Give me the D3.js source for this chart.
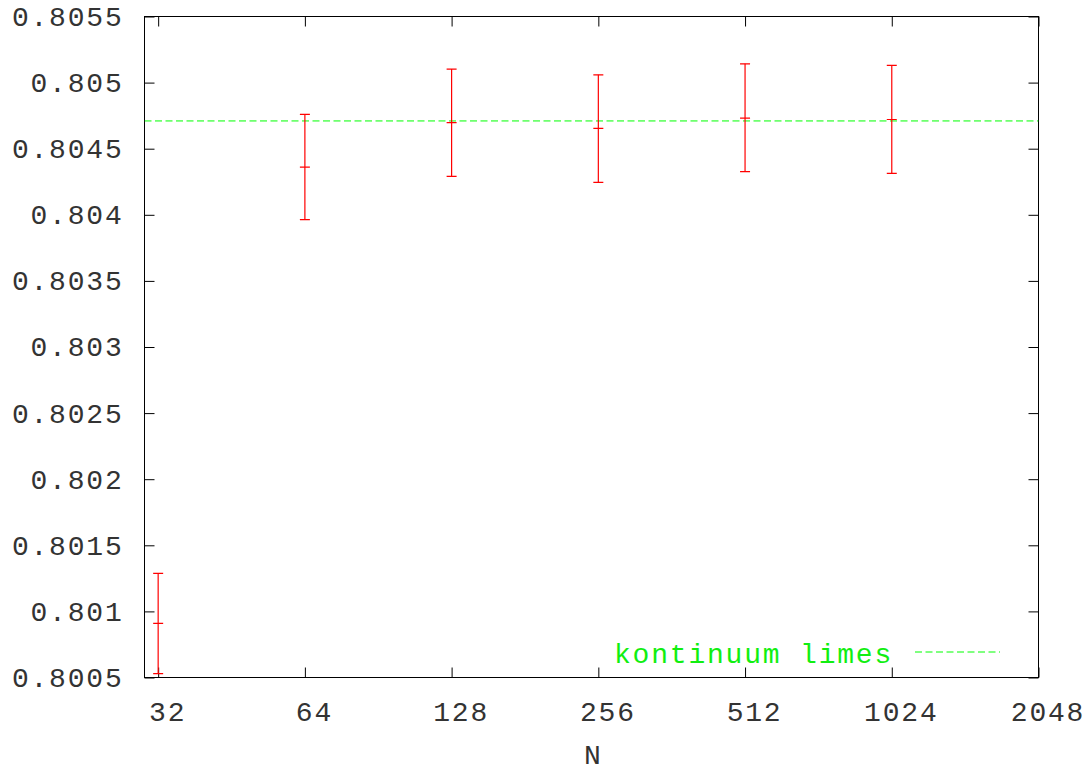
<!DOCTYPE html>
<html><head><meta charset="utf-8">
<script src="https://cdn.jsdelivr.net/npm/d3@7"></script>
<style>
body{margin:0;background:#fff;}
svg{display:block;}
text{font-family:"Liberation Mono",monospace;}
</style></head>
<body>
<svg id="chart" width="1092" height="769"></svg>
<script>
// Data
const N = [32, 64, 128, 256, 512, 1024];
const values = [0.80091, 0.804361, 0.804697, 0.804653, 0.804731, 0.804721];
const errLow = [0.80053, 0.803963, 0.804291, 0.804245, 0.804326, 0.804313];
const errHigh = [0.801288, 0.804759, 0.805102, 0.805059, 0.805142, 0.80513];
const limit = 0.80471;
const xTicks = [32, 64, 128, 256, 512, 1024, 2048];
const yTicks = [0.8005, 0.801, 0.8015, 0.802, 0.8025, 0.803, 0.8035, 0.804, 0.8045, 0.805, 0.8055];
const yTickLabels = ["0.8005","0.801","0.8015","0.802","0.8025","0.803","0.8035","0.804","0.8045","0.805","0.8055"];
const legendLabel = "kontinuum limes";
const xLabel = "N";

const L = 144.5, R = 1038.5, T = 16.5, B = 677.5;
const svg = d3.select("#chart");
const x = d3.scaleLog().base(2).domain([30, 2048]).range([L, R]);
const y = d3.scaleLinear().domain([0.8005, 0.8055]).range([B, T]);
const FS = 28;
const LS = 1.8;
const txtCol = "#333";

// axes
const gL = svg.append("g").attr("transform", `translate(${L},0)`)
  .call(d3.axisLeft(y).tickValues(yTicks).tickSizeInner(-10).tickSizeOuter(0).tickPadding(21)
    .tickFormat((d,i) => yTickLabels[i]));
const gR = svg.append("g").attr("transform", `translate(${R},0)`)
  .call(d3.axisRight(y).tickValues(yTicks).tickSizeInner(-10).tickSizeOuter(0).tickFormat(""));
const gB = svg.append("g").attr("transform", `translate(0,${B})`)
  .call(d3.axisBottom(x).tickValues(xTicks).tickSizeInner(-10).tickSizeOuter(0).tickPadding(24)
    .tickFormat(d3.format("d")));
const gT = svg.append("g").attr("transform", `translate(0,${T})`)
  .call(d3.axisTop(x).tickValues(xTicks).tickSizeInner(-10).tickSizeOuter(0).tickFormat(""));
[gL, gR, gB, gT].forEach(g => {
  g.select(".domain").remove();
  g.selectAll("line").attr("stroke", "#000").attr("stroke-width", 1);
  g.selectAll("text").attr("font-size", FS).attr("fill", txtCol)
    .attr("letter-spacing", LS).attr("font-family", "Liberation Mono, monospace");
});
gB.selectAll("text").attr("dx", 9);

svg.append("rect").attr("x", L).attr("y", T).attr("width", R - L).attr("height", B - T)
  .attr("fill", "none").attr("stroke", "#000").attr("stroke-width", 1);

// clip
svg.append("clipPath").attr("id", "clip").append("rect")
  .attr("x", L).attr("y", T).attr("width", R - L).attr("height", B - T);
const plot = svg.append("g").attr("clip-path", "url(#clip)");

// green limit line
plot.append("line").attr("x1", L).attr("x2", R).attr("y1", y(limit)).attr("y2", y(limit))
  .attr("stroke", "#00ff00").attr("stroke-width", 1).attr("stroke-dasharray", "7,3.5");

// error bars
const red = "#ff0000";
const cap = 5;
const eb = plot.selectAll("g.eb").data(N).join("g").attr("class", "eb");
eb.append("line").attr("x1", d => x(d)).attr("x2", d => x(d))
  .attr("y1", (d,i) => y(errLow[i])).attr("y2", (d,i) => y(errHigh[i]))
  .attr("stroke", red).attr("stroke-width", 1.2);
eb.append("line").attr("x1", d => x(d) - cap).attr("x2", d => x(d) + cap)
  .attr("y1", (d,i) => y(errLow[i])).attr("y2", (d,i) => y(errLow[i]))
  .attr("stroke", red).attr("stroke-width", 1.2);
eb.append("line").attr("x1", d => x(d) - cap).attr("x2", d => x(d) + cap)
  .attr("y1", (d,i) => y(errHigh[i])).attr("y2", (d,i) => y(errHigh[i]))
  .attr("stroke", red).attr("stroke-width", 1.2);
eb.append("line").attr("x1", d => x(d) - cap).attr("x2", d => x(d) + cap)
  .attr("y1", (d,i) => y(values[i])).attr("y2", (d,i) => y(values[i]))
  .attr("stroke", red).attr("stroke-width", 1.2);

// legend
svg.append("text").attr("x", 614).attr("y", 662.5).attr("text-anchor", "start")
  .attr("font-size", FS).attr("letter-spacing", LS).attr("fill", "#11ee11").text(legendLabel);
svg.append("line").attr("x1", 915).attr("x2", 1000).attr("y1", 652).attr("y2", 652)
  .attr("stroke", "#00ff00").attr("stroke-width", 1).attr("stroke-dasharray", "7,3.5");

// x label
svg.append("text").attr("x", (L + R) / 2 + 1).attr("y", 764).attr("text-anchor", "middle")
  .attr("font-size", FS).attr("fill", txtCol).text(xLabel);
</script>
</body></html>
